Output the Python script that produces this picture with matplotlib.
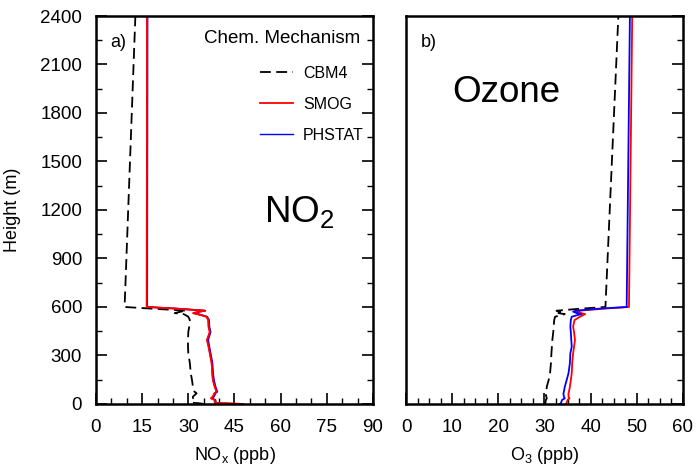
import matplotlib
matplotlib.use("Agg")
import matplotlib.pyplot as plt
from matplotlib.ticker import MultipleLocator

# ---- data ----
heights = [0, 4, 8, 25, 35, 45, 66, 76, 107, 148, 190, 253, 314, 354, 396, 445, 478, 519, 540, 556, 562, 571, 577, 590, 600, 2400]

nox_cbm4 = [35.0, 33.8, 31.2, 31.0, 31.5, 31.5, 32.7, 32.0, 31.5, 31.2, 30.8, 30.5, 30.0, 29.9, 29.9, 30.0, 30.3, 30.5, 30.0, 28.5, 25.6, 27.5, 29.4, 18.0, 9.3, 12.8]
nox_smog = [47.8, 42.0, 38.6, 38.6, 37.4, 38.0, 38.5, 39.2, 38.6, 38.0, 37.8, 37.6, 37.0, 36.6, 36.1, 37.0, 36.6, 36.5, 35.9, 33.0, 31.6, 33.5, 35.4, 26.0, 16.5, 16.6]
nox_phstat = [44.0, 40.5, 39.0, 38.9, 37.8, 38.4, 38.9, 39.5, 38.9, 38.4, 38.1, 37.9, 37.3, 36.9, 36.5, 37.3, 36.9, 36.8, 36.2, 33.4, 32.0, 33.8, 35.6, 26.5, 16.7, 16.8]

o3_cbm4 = [29.9, 30.1, 30.2, 30.3, 30.5, 30.4, 30.2, 30.4, 30.5, 30.9, 31.2, 31.4, 31.5, 31.6, 31.7, 31.9, 32.0, 32.1, 32.3, 34.4, 33.0, 34.1, 32.6, 38.0, 43.2, 46.0]
o3_smog = [34.6, 34.7, 34.8, 35.0, 35.4, 35.2, 35.2, 35.3, 35.5, 35.7, 35.9, 36.0, 36.2, 36.4, 36.6, 36.4, 36.2, 36.5, 37.7, 38.8, 38.0, 37.0, 37.5, 43.0, 48.3, 49.0]
o3_phstat = [33.3, 33.5, 33.6, 33.8, 34.4, 34.2, 34.1, 34.2, 34.4, 34.8, 35.2, 35.5, 35.6, 35.9, 35.8, 35.7, 35.6, 35.7, 35.9, 38.0, 37.0, 36.2, 36.8, 42.0, 47.8, 48.5]

series_names = ["CBM4", "SMOG", "PHSTAT"]
series_colors = ["black", "red", "blue"]

REG = ['Liberation Sans', 'DejaVu Sans']
plt.rcParams['font.family'] = REG
plt.rcParams['mathtext.fontset'] = 'custom'
plt.rcParams['mathtext.rm'] = 'Liberation Sans'

fig = plt.figure(figsize=(6.97, 4.72), dpi=100)

ax1 = fig.add_axes([0.1377, 0.1441, 0.3974, 0.822])
ax2 = fig.add_axes([0.5825, 0.1441, 0.3974, 0.822])

def style(ax, xmax, major, minor):
    ax.set_xlim(0, xmax)
    ax.set_ylim(0, 2400)
    ax.xaxis.set_major_locator(MultipleLocator(major))
    ax.xaxis.set_minor_locator(MultipleLocator(minor))
    ax.yaxis.set_major_locator(MultipleLocator(300))
    ax.yaxis.set_minor_locator(MultipleLocator(150))
    for s in ax.spines.values():
        s.set_linewidth(1.8)
    ax.tick_params(which='major', direction='in', length=8, width=1.2, labelsize=13.5)
    ax.tick_params(which='minor', direction='in', length=4, width=1.0)
    ax.tick_params(axis='x', which='major', pad=11)
    ax.tick_params(axis='y', which='major', pad=10)

# left panel
ax1.plot(nox_cbm4, heights, color=series_colors[0], ls=(0, (6, 3)), lw=1.3, label=series_names[0])
ax1.plot(nox_smog, heights, color=series_colors[1], lw=1.3, label=series_names[1])
ax1.plot(nox_phstat, heights, color=series_colors[2], lw=1.0, label=series_names[2])
ax1.plot(nox_smog, heights, color=series_colors[1], lw=1.3)
style(ax1, 90, 15, 5)
ax1.tick_params(axis='y', which='both', left=True, right=True)
ax1.set_ylabel("Height (m)", fontsize=13)
ax1.yaxis.set_label_coords(-0.271, 0.5)
ax1.set_xlabel(r"NO$_\mathregular{x}$ (ppb)", fontsize=13)
ax1.xaxis.set_label_coords(0.5, -0.105)
ax1.text(0.05, 0.92, "a)", transform=ax1.transAxes, fontsize=13, va='baseline')
ax1.text(0.953, 0.93, "Chem. Mechanism", transform=ax1.transAxes, fontsize=13.5, va='baseline', ha='right')
ax1.text(0.605, 0.466, r"NO$_\mathregular{2}$", transform=ax1.transAxes, fontsize=26.5, va='baseline')
leg = ax1.legend(loc='upper left', bbox_to_anchor=(0.592, 0.872), frameon=False,
                 handlelength=2.1, handletextpad=0.6, labelspacing=1.0,
                 borderpad=0, borderaxespad=0,
                 prop={'family': REG, 'size': 11.5})

# right panel
ax2.plot(o3_cbm4, heights, color=series_colors[0], ls=(0, (6, 3)), lw=1.3)
ax2.plot(o3_smog, heights, color=series_colors[1], lw=1.3)
ax2.plot(o3_phstat, heights, color=series_colors[2], lw=1.3)
style(ax2, 60, 10, 2.5)
ax2.tick_params(axis='y', which='both', left=False, right=True, labelleft=False)
ax2.set_xlabel(r"O$_\mathregular{3}$ (ppb)", fontsize=13)
ax2.xaxis.set_label_coords(0.5, -0.105)
ax2.text(0.053, 0.92, "b)", transform=ax2.transAxes, fontsize=13, va='baseline')
ax2.text(0.168, 0.779, "Ozone", transform=ax2.transAxes, fontsize=26.5, va='baseline')

fig.savefig("out.png", dpi=100)
